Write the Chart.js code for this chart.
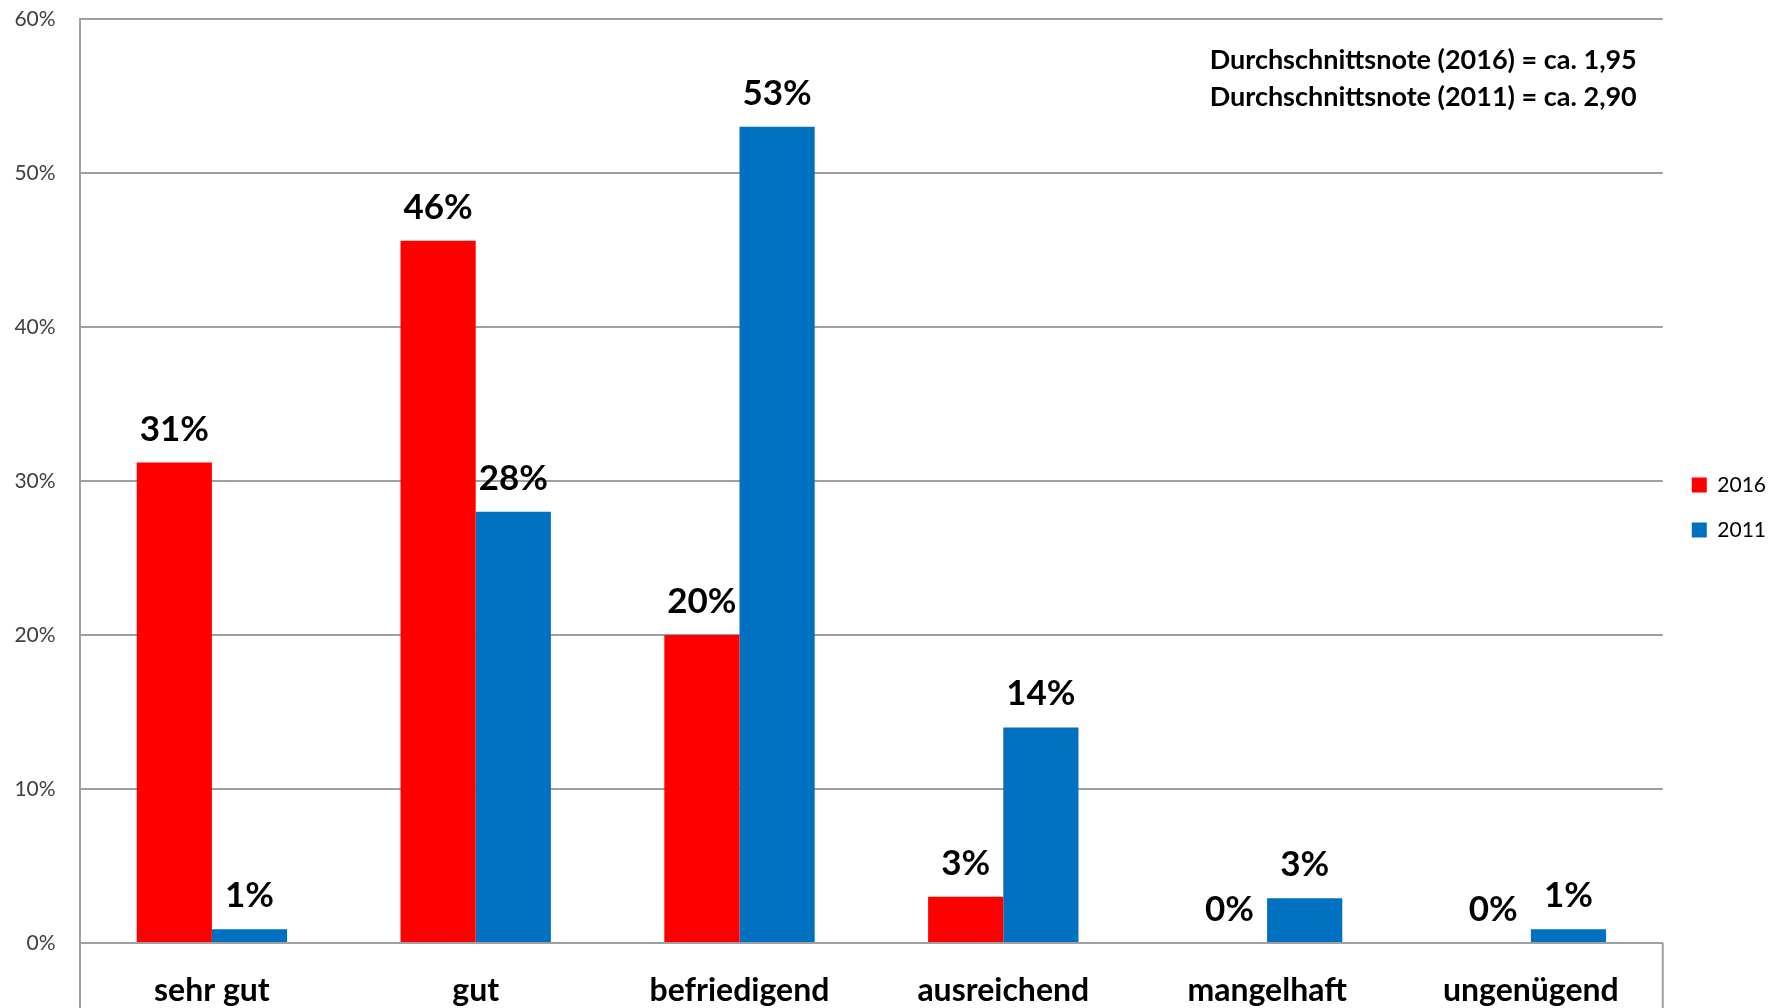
<!DOCTYPE html>
<html>
<head>
<meta charset="utf-8">
<script src="https://cdn.jsdelivr.net/npm/chart.js@4/dist/chart.umd.min.js"></script>
<style>
html,body{margin:0;padding:0;background:#fff;}
#wrap{width:1776px;height:1008px;position:relative;}
</style>
</head>
<body>
<div id="wrap"><canvas id="c" width="1776" height="1008"></canvas></div>
<script>
const categories = ['sehr gut', 'gut', 'befriedigend', 'ausreichend', 'mangelhaft', 'ungenügend'];
const values2016 = [31.2, 45.6, 20.0, 3.0, 0, 0];
const values2011 = [0.9, 28.0, 53.0, 14.0, 2.9, 0.9];
const seriesNames = ['2016', '2011'];
const yTicks = [0, 10, 20, 30, 40, 50, 60];
const notes = ['Durchschnittsnote (2016) = ca. 1,95', 'Durchschnittsnote (2011) = ca. 2,90'];

const FONT = 'Lato, "Open Sans", sans-serif';
const GRID = '#a0a0a0';

const valueLabels = {
  id: 'valueLabels',
  afterDatasetsDraw(chart) {
    const ctx = chart.ctx;
    ctx.save();
    ctx.font = 'bold 35px ' + FONT;
    ctx.fillStyle = '#000';
    ctx.textAlign = 'center';
    ctx.textBaseline = 'alphabetic';
    chart.data.datasets.forEach((ds, i) => {
      const meta = chart.getDatasetMeta(i);
      meta.data.forEach((el, j) => {
        const v = ds.data[j];
        ctx.fillText(Math.round(v) + '%', el.x, el.y - 22);
      });
    });
    ctx.restore();
  }
};

const frameAndNotes = {
  id: 'frameAndNotes',
  afterDraw(chart) {
    const ctx = chart.ctx;
    const a = chart.chartArea;
    ctx.save();
    ctx.strokeStyle = GRID;
    ctx.lineWidth = 2;
    ctx.beginPath();
    ctx.moveTo(a.left, a.bottom);
    ctx.lineTo(a.left, chart.height);
    ctx.moveTo(a.right, a.bottom);
    ctx.lineTo(a.right, chart.height);
    ctx.stroke();
    ctx.font = 'bold 27px ' + FONT;
    ctx.fillStyle = '#000';
    ctx.textAlign = 'right';
    ctx.textBaseline = 'middle';
    notes.forEach((t, i) => ctx.fillText(t, a.right - 26, a.top + 41 + i * 37));
    ctx.restore();
  }
};

new Chart(document.getElementById('c'), {
  type: 'bar',
  data: {
    labels: categories,
    datasets: [
      { label: seriesNames[0], data: values2016, backgroundColor: '#ff0000', categoryPercentage: 0.57, barPercentage: 1.0 },
      { label: seriesNames[1], data: values2011, backgroundColor: '#0070c0', categoryPercentage: 0.57, barPercentage: 1.0 }
    ]
  },
  options: {
    responsive: false,
    animation: false,
    layout: { padding: { top: 7, left: 0, right: 0, bottom: 0 } },
    plugins: {
      tooltip: { enabled: false },
      legend: {
        position: 'right',
        align: 'center',
        labels: {
          boxWidth: 15,
          boxHeight: 15,
          padding: 24,
          color: '#000',
          font: { family: FONT, size: 21 }
        }
      }
    },
    scales: {
      x: {
        grid: { display: false, drawTicks: false },
        border: { display: true, color: GRID, width: 2 },
        ticks: { color: '#000', padding: 28, font: { family: FONT, size: 32, weight: 'bold' }, maxRotation: 0 },
        afterFit(s) { s.height = 65; }
      },
      y: {
        min: 0,
        max: 60,
        afterBuildTicks(s) { s.ticks = yTicks.map(v => ({ value: v })); },
        grid: { color: GRID, lineWidth: 2, drawTicks: true, tickLength: 18, tickColor: 'rgba(0,0,0,0)' },
        border: { display: true, color: GRID, width: 2 },
        ticks: { color: '#404040', padding: 6.4, font: { family: FONT, size: 21 }, callback: v => v + '%' },
        afterFit(s) { s.width = 80; }
      },
      yR: {
        position: 'right',
        display: true,
        grid: { display: false, drawTicks: false },
        border: { display: false },
        ticks: { display: false },
        afterFit(s) { s.width = 5; }
      }
    }
  },
  plugins: [valueLabels, frameAndNotes]
});
</script>
</body>
</html>
